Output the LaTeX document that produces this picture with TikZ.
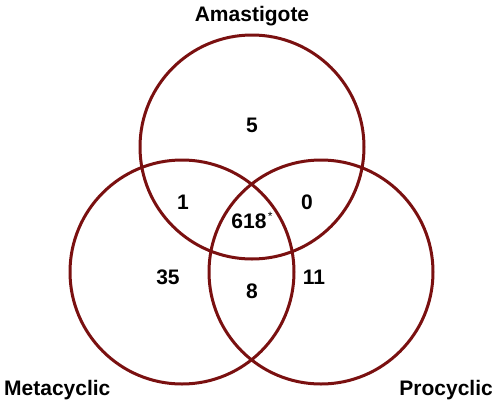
\documentclass[tikz,border=0pt]{standalone}
\usepackage{fontspec}
\setmainfont{Liberation Sans}
\usepackage{tikz}
\definecolor{vennred}{RGB}{122,16,16}
\tikzset{>=latex}

\begin{document}
\begin{tikzpicture}[x=1pt, y=-1pt,
    set/.style={draw=vennred, line width=3pt},
    count/.style={font=\bfseries\fontsize{21}{21}\selectfont, anchor=base, inner sep=0pt}]
    \useasboundingbox (0, 0) rectangle (498, 405);
    \draw[set](252, 147) circle[radius=112pt];
    \draw[set](182, 272) circle[radius=112pt];
    \draw[set](321, 272) circle[radius=112pt];
    \node[count] (amast) at (252, 21) {Amastigote};
    \node[count, anchor=base west] (meta) at (4, 395) {Metacyclic};
    \node[count, anchor=base east] (pro) at (493, 395) {Procyclic};
    \node[count] (a) at (252, 132) {5};
    \node[count] (am) at (183, 209) {1};
    \node[count] (ap) at (307, 209) {0};
    \node[count] (amp) at (249, 228) {618};
    \node[anchor=north west, inner sep=0pt, font=\fontsize{12}{12}\selectfont] (star) at ([xshift=1pt, yshift=1pt]amp.north east) {*};
    \node[count] (m) at (168, 284) {35};
    \node[count] (mp) at (252, 298) {8};
    \node[count] (p) at (314, 284) {11};
\end{tikzpicture}
\end{document}
